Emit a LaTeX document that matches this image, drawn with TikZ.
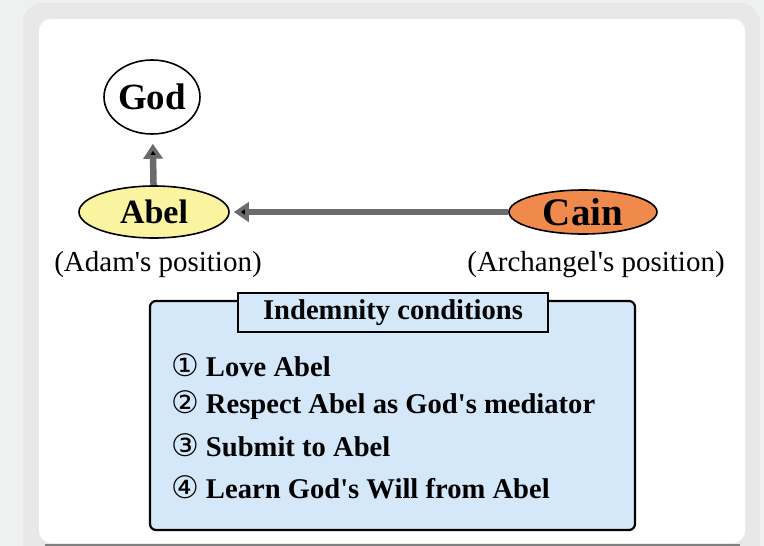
\documentclass[tikz,border=0pt]{standalone}
\usepackage{fontspec}
\setmainfont{Liberation Serif}
\newfontfamily\circfont{DejaVu Sans}
\usetikzlibrary{arrows.meta,shapes.geometric}

\definecolor{pagebg}{HTML}{EFF1F0}
\definecolor{framegray}{HTML}{E8E8E8}
\definecolor{abelyellow}{HTML}{FAF4A0}
\definecolor{cainorange}{HTML}{EF8A4C}
\definecolor{condblue}{HTML}{D5E8FA}
\definecolor{arrowgray}{HTML}{6B6B6B}

\newcommand{\apos}{\textquotesingle}
\newcommand{\cnum}[1]{{\circfont\mdseries\fontsize{31}{32}\selectfont #1}\hspace{7pt}}

\tikzset{
  bigtext/.style={font=\bfseries\fontsize{#1}{40}\selectfont},
  roletext/.style={font=\fontsize{29}{32}\selectfont},
  condtext/.style={font=\bfseries\fontsize{28.6}{32}\selectfont},
  fatarrow/.style={draw=arrowgray,line width=6.5pt,-{Triangle[length=15pt,width=19pt]}}
}

\begin{document}
\begin{tikzpicture}[x=1pt,y=-1pt]

      % backdrop and card
      \fill[pagebg] (0,0) rectangle (764,546);
      \useasboundingbox (0,0) rectangle (764,546);
      \fill[framegray,rounded corners=20pt] (23,3) rectangle (760,570);
      \fill[white,rounded corners=12pt] (39,19) rectangle (745,543);
      \draw[gray,line width=2pt] (45,545) -- (740,545);

      \begin{scope}[every node/.style={ellipse,draw,line width=1.6pt,inner sep=0pt}]
        \node[fill=white,minimum width=86pt,minimum height=74pt,bigtext=37] (god) at (152,97) {God};
        \node[fill=abelyellow,minimum width=150pt,minimum height=52pt,bigtext=34] (abel) at (154,212) {Abel};
        \node[fill=cainorange,minimum width=148pt,minimum height=44pt,bigtext=39] (cain) at (583,212) {Cain};
      \end{scope}

      \node[roletext] (adam) at (158,265) {(Adam\apos s position)};
      \node[roletext] (arch) at (596,265) {(Archangel\apos s position)};

      \path[fatarrow,shorten >=9pt] (abel) edge (god);
      \path[fatarrow,shorten >=4pt] (cain) edge (abel);

      \node[draw,line width=2.2pt,fill=condblue,rounded corners=6pt,
            minimum width=485pt,minimum height=229pt] (cond) at (392.5,415.5) {};
      \node[draw,line width=1.8pt,fill=condblue,minimum width=310pt,
            minimum height=39pt,condtext] (title) at (393,312.5) {Indemnity conditions};

      \begin{scope}[every node/.style={anchor=west,inner sep=0pt,condtext}]
        \node (c1) at (171,365) {\cnum{①}Love Abel};
        \node (c2) at (171,405) {\cnum{②}Respect Abel as God\apos s mediator};
        \node (c3) at (171,445) {\cnum{③}Submit to Abel};
        \node (c4) at (171,487) {\cnum{④}Learn God\apos s Will from Abel};
      \end{scope}

    \end{tikzpicture}
\end{document}
